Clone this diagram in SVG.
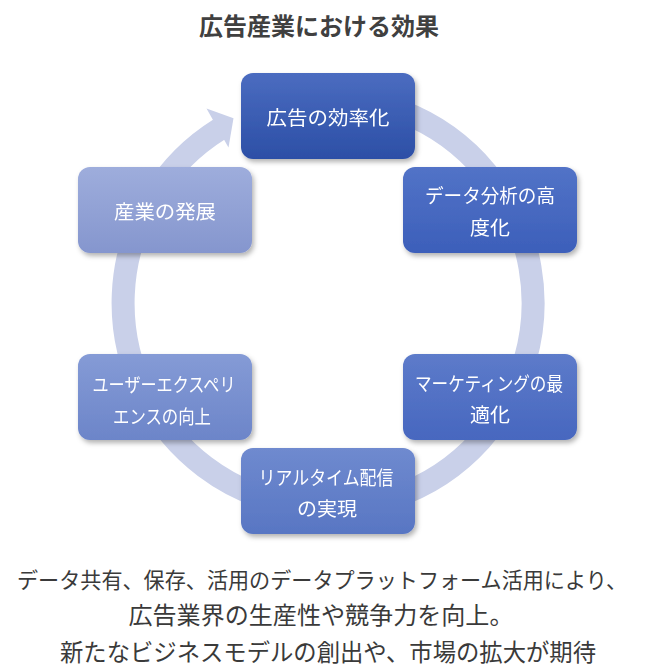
<svg xmlns="http://www.w3.org/2000/svg" width="645" height="670" viewBox="0 0 645 670">
<defs>
<style>
.t{font-family:"Noto Sans CJK JP","Noto Sans CJK SC",sans-serif;fill:#fff;font-size:19px;text-anchor:middle;dominant-baseline:central}
.b{font-family:"Noto Sans CJK JP","Noto Sans CJK SC",sans-serif;fill:#3a3a3a;font-size:24px;text-anchor:middle;dominant-baseline:central}
.ttl{font-family:"Noto Sans CJK JP","Noto Sans CJK SC",sans-serif;fill:#404040;font-size:24px;font-weight:bold;text-anchor:middle;dominant-baseline:central}
.box{filter:url(#sh)}
</style>
<filter id="sh" x="-20%" y="-20%" width="140%" height="150%">
<feDropShadow dx="2" dy="3" stdDeviation="2.5" flood-color="#000" flood-opacity="0.3"/>
</filter>
<linearGradient id="g1" x1="0" y1="0" x2="0" y2="1"><stop offset="0" stop-color="#4B6CC0"/><stop offset="1" stop-color="#2C4FA6"/></linearGradient>
<linearGradient id="g2" x1="0" y1="0" x2="0" y2="1"><stop offset="0" stop-color="#5273C7"/><stop offset="1" stop-color="#3C5FBA"/></linearGradient>
<linearGradient id="g3" x1="0" y1="0" x2="0" y2="1"><stop offset="0" stop-color="#5D7BCA"/><stop offset="1" stop-color="#4767BF"/></linearGradient>
<linearGradient id="g4" x1="0" y1="0" x2="0" y2="1"><stop offset="0" stop-color="#6F8ACF"/><stop offset="1" stop-color="#5876C3"/></linearGradient>
<linearGradient id="g5" x1="0" y1="0" x2="0" y2="1"><stop offset="0" stop-color="#859BD6"/><stop offset="1" stop-color="#6C85C9"/></linearGradient>
<linearGradient id="g6" x1="0" y1="0" x2="0" y2="1"><stop offset="0" stop-color="#9EADDC"/><stop offset="1" stop-color="#8596CE"/></linearGradient>
</defs>
<rect width="645" height="670" fill="#fff"/>
<text class="ttl" x="319" y="24">広告産業における効果</text>
<g id="connectors">
<path d="M310.1,98.8 A205,205 0 1 1 219.4,129.2" fill="none" stroke="#C9D0E9" stroke-width="23"/>
<polygon points="206.5,108.5 233.5,118.3 228.5,147.5" fill="#C9D0E9"/>
</g>
<g id="node1" class="box"><rect x="241" y="73" width="174" height="86" rx="12" fill="url(#g1)"/><text class="t" x="328" y="116" textLength="123" lengthAdjust="spacingAndGlyphs">広告の効率化</text></g>
<g id="node2" class="box"><rect x="403" y="167" width="174" height="86" rx="12" fill="url(#g2)"/><text class="t" x="490" y="194" textLength="130" lengthAdjust="spacingAndGlyphs">データ分析の高</text><text class="t" x="490" y="226" textLength="40" lengthAdjust="spacingAndGlyphs">度化</text></g>
<g id="node3" class="box"><rect x="403" y="354" width="174" height="86" rx="12" fill="url(#g3)"/><text class="t" x="489" y="382" textLength="148" lengthAdjust="spacingAndGlyphs">マーケティングの最</text><text class="t" x="490" y="413" textLength="40" lengthAdjust="spacingAndGlyphs">適化</text></g>
<g id="node4" class="box"><rect x="241" y="448" width="174" height="86" rx="12" fill="url(#g4)"/><text class="t" x="326" y="476" textLength="135" lengthAdjust="spacingAndGlyphs">リアルタイム配信</text><text class="t" x="327" y="507" textLength="60" lengthAdjust="spacingAndGlyphs">の実現</text></g>
<g id="node5" class="box"><rect x="78" y="354" width="174" height="86" rx="12" fill="url(#g5)"/><text class="t" x="164" y="383" textLength="143" lengthAdjust="spacingAndGlyphs">ユーザーエクスペリ</text><text class="t" x="162" y="415" textLength="98" lengthAdjust="spacingAndGlyphs">エンスの向上</text></g>
<g id="node6" class="box"><rect x="78" y="167" width="174" height="86" rx="12" fill="url(#g6)"/><text class="t" x="165" y="210" textLength="102" lengthAdjust="spacingAndGlyphs">産業の発展</text></g>
<text class="b" x="322" y="578" font-size="21.5" textLength="610" lengthAdjust="spacingAndGlyphs" style="font-size:21.5px">データ共有、保存、活用のデータプラットフォーム活用により、</text>
<text class="b" x="321" y="613" textLength="385" lengthAdjust="spacingAndGlyphs">広告業界の生産性や競争力を向上。</text>
<text class="b" x="328" y="650" textLength="536" lengthAdjust="spacingAndGlyphs">新たなビジネスモデルの創出や、市場の拡大が期待</text>
</svg>
